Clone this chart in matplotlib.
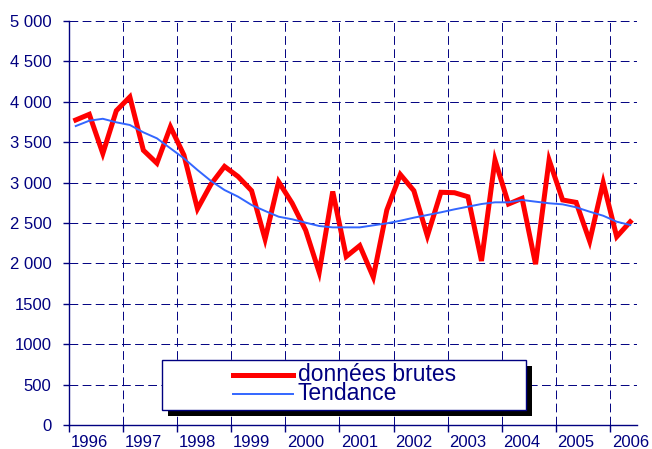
import matplotlib.pyplot as plt
from matplotlib.patches import Rectangle
from matplotlib.lines import Line2D
from matplotlib.ticker import FixedLocator

# -------------------------------------------
# Données trimestrielles 1996 - 2006 (T2)
# -------------------------------------------
annees = ['1996', '1997', '1998', '1999', '2000', '2001',
          '2002', '2003', '2004', '2005', '2006']

donnees_brutes = [3775, 3845, 3360, 3890, 4060, 3400, 3240, 3690, 3340, 2675,
                  2980, 3200, 3075, 2900, 2300, 3010, 2745, 2410, 1890, 2890,
                  2085, 2220, 1830, 2660, 3100, 2900, 2340, 2880, 2875, 2825,
                  2030, 3280, 2735, 2805, 1990, 3280, 2785, 2755, 2275, 3000,
                  2330, 2515]

tendance = [3700, 3766, 3790, 3746, 3713, 3622, 3548, 3424, 3300, 3156,
            3020, 2908, 2826, 2723, 2649, 2578, 2546, 2504, 2463, 2446,
            2446, 2446, 2471, 2496, 2528, 2566, 2599, 2632, 2669, 2702,
            2735, 2756, 2756, 2785, 2764, 2744, 2731, 2694, 2640, 2590,
            2516, 2475]

y_valeurs = [0, 500, 1000, 1500, 2000, 2500, 3000, 3500, 4000, 4500, 5000]
y_etiquettes = ['0', '500', '1000', '1500', '2 000', '2 500', '3 000',
                '3 500', '4 000', '4 500', '5 000']

MARINE = '#000080'
W, H = 652, 449

plt.rcParams['font.family'] = ['Liberation Sans', 'DejaVu Sans']

fig = plt.figure(figsize=(W / 100, H / 100), dpi=100)
ax = fig.add_axes([69 / W, 1 - 425 / H, (637 - 69) / W, (425 - 21) / H])

x = list(range(len(donnees_brutes)))
ax.plot(x, donnees_brutes, color='#ff0000', lw=3.6, solid_joinstyle='miter',
        zorder=3)
ax.plot(x, tendance, color='#3366ff', lw=1.4, zorder=4)

ax.set_xlim(-0.5, len(x) - 0.5)
ax.set_ylim(0, 5000)

# axe x : étiquettes d'année, traits entre les années
pos_annees = [1 + 4 * k for k in range(len(annees))]
bornes = [-0.5 + 4 * k for k in range(len(annees))]
ax.xaxis.set_major_locator(FixedLocator(pos_annees))
ax.set_xticklabels(annees)
ax.xaxis.set_minor_locator(FixedLocator(bornes))
ax.tick_params(axis='x', which='major', length=0, pad=7, labelsize=12,
               labelcolor=MARINE)
ax.tick_params(axis='x', which='minor', length=5, width=1, color=MARINE,
               direction='out')

ax.set_yticks(y_valeurs)
ax.set_yticklabels(y_etiquettes)
ax.tick_params(axis='y', length=4, width=1, color=MARINE, direction='out',
               pad=8.5, labelsize=12, labelcolor=MARINE)

# quadrillage pointillé
grille = dict(color=MARINE, lw=0.7, linestyle=(0, (9, 4.5)))
ax.grid(axis='x', which='minor', **grille)
ax.grid(axis='y', which='major', **grille)
ax.set_axisbelow(True)

for cote in ['top', 'right']:
    ax.spines[cote].set_visible(False)
for cote in ['left', 'bottom']:
    ax.spines[cote].set_color(MARINE)
    ax.spines[cote].set_linewidth(1)


# légende dessinée à la main (cadre + ombre)
def px(xp, yp):
    return xp / W, 1 - yp / H


fig.patches.append(Rectangle(px(167.5, 415.5), 364 / W, 50 / H,
                             transform=fig.transFigure, facecolor='black',
                             edgecolor='none', zorder=5))
fig.patches.append(Rectangle(px(161.5, 409.5), 364 / W, 50 / H,
                             transform=fig.transFigure, facecolor='white',
                             edgecolor=MARINE, lw=1, zorder=6))

for yl, couleur, lw, texte in [(374.5, '#ff0000', 3.6, 'données brutes'),
                               (393.5, '#3366ff', 1.4, 'Tendance')]:
    (x0, y0), (x1, _) = px(233, yl), px(293, yl)
    fig.lines.append(Line2D([x0, x1], [y0, y0], color=couleur, lw=lw,
                            transform=fig.transFigure, zorder=7))
    fig.text(298 / W, 1 - (yl + 6.5) / H, texte, fontsize=16.5, color=MARINE,
             va='baseline', ha='left', zorder=8)

plt.savefig('out.png', dpi=100)
